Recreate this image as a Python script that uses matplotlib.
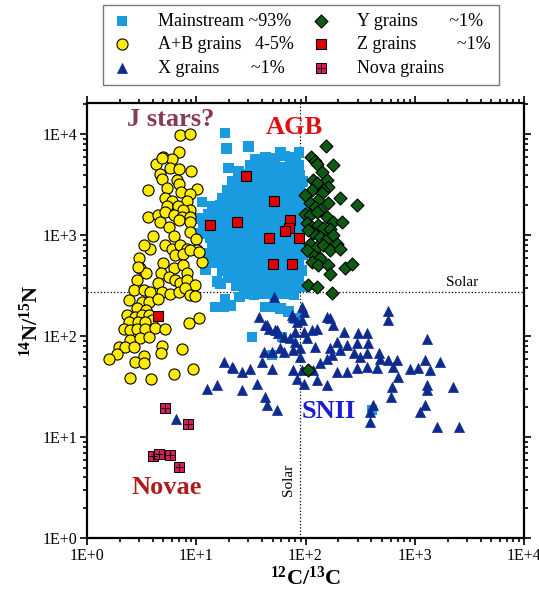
import numpy as np
import matplotlib
matplotlib.use("Agg")
import matplotlib.pyplot as plt
from matplotlib.ticker import LogLocator, FuncFormatter, NullFormatter
from matplotlib.legend_handler import HandlerTuple

plt.rcParams['font.family'] = ['Liberation Serif', 'DejaVu Serif']
plt.rcParams['mathtext.fontset'] = 'custom'
plt.rcParams['mathtext.rm'] = 'Liberation Serif'
plt.rcParams['mathtext.bf'] = 'Liberation Serif:bold'
plt.rcParams['mathtext.it'] = 'Liberation Serif:italic'

# ---- data (12C/13C, 14N/15N) ----
# mainstream grains, dense core row by row, then the outliers
ms_x = [34.7, 42.8, 52.8, 65.2, 80.5,
        31.2, 38.5, 47.5, 58.7, 72.4, 86,
        24.3, 29, 34.7, 41.9, 49.3, 61.6, 76, 89,
        21.5, 25.3, 31.2, 36.9, 45.4, 55, 68, 84, 95,
        19.2, 22.3, 27, 32.6, 40, 47.5, 58.7, 72.4, 89,
        17.3, 20.5, 24.3, 30, 35.5, 43.7, 55, 68, 84, 97,
        14, 16.6, 20, 24.3, 29.3, 35.5, 43.7, 52.8, 65.2, 80.5, 97,
        12.9, 15.2, 18.4, 22.3, 27, 32.6, 40, 49.3, 61.6, 76, 93,
        12.1, 14.3, 17.3, 21, 25.3, 31.2, 38.5, 47.5, 58.7, 72.4, 89,
        12.6, 15.2, 18.4, 22.8, 27.5, 33.9, 41.9, 51.6, 63.7, 78.7, 95,
        13.4, 16.2, 19.6, 24.3, 30, 36.9, 45.4, 56, 69.6, 86,
        14, 17, 20.5, 25.3, 31.2, 38.5, 47.5, 58.7, 72.4, 89,
        14.6, 18, 22.3, 27.5, 33.9, 41.9, 51.6, 63.7, 78.7, 95,
        15.9, 19.6, 24.3, 30, 36.9, 45.4, 56, 69.6, 86,
        17.3, 21.5, 26.4, 32.6, 40, 49.3, 61.6, 76, 93,
        19.6, 24.3, 30, 36.9, 45.4, 56, 69.6, 86,
        23.3, 28.7, 35.5, 43.7, 55, 68, 84, 97,
        27.5, 33.9, 41.9, 51.6, 63.7, 78.7,
        18.4, 19, 30, 87, 58.7, 19.7, 24.4, 11.3, 10.9, 11.7, 10.9, 13, 12.1,
        13.9, 15.5, 16.6, 18.4, 14.9, 17.8, 20.5, 25, 42.8, 52.8, 70, 80.5,
        58.7, 32.3, 60.7, 49.3, 406]
ms_y = [5700, 6000, 5800, 6100, 5900,
        4900, 4800, 5000, 4700, 4900, 5000,
        4100, 4000, 4150, 3950, 4100, 4000, 4100, 3950,
        3400, 3300, 3450, 3350, 3400, 3300, 3450, 3350, 3400,
        2800, 2850, 2750, 2850, 2800, 2750, 2850, 2800, 2750,
        2350, 2300, 2400, 2350, 2300, 2400, 2350, 2300, 2400, 2350,
        1950, 2000, 1900, 1950, 2000, 1900, 1950, 2000, 1900, 1950, 2000,
        1620, 1650, 1600, 1630, 1650, 1600, 1620, 1650, 1600, 1630, 1620,
        1350, 1380, 1330, 1360, 1350, 1380, 1330, 1360, 1350, 1380, 1330,
        1130, 1100, 1150, 1120, 1140, 1100, 1130, 1150, 1110, 1130, 1140,
        940, 920, 960, 930, 950, 920, 940, 960, 930, 950,
        780, 800, 770, 790, 780, 800, 770, 790, 780, 800,
        650, 640, 660, 650, 640, 660, 650, 640, 660, 650,
        545, 535, 555, 540, 550, 535, 545, 555, 540,
        450, 460, 445, 455, 450, 460, 445, 455, 450,
        380, 370, 385, 375, 380, 370, 385, 375,
        315, 310, 320, 312, 315, 310, 318, 312,
        262, 258, 265, 260, 262, 258,
        10300, 7300, 7600, 6600, 6700, 4640, 4300, 2150, 1470, 1310, 1040, 660, 453,
        530, 350, 335, 232, 195, 195, 203, 246, 195, 195, 175, 150,
        189, 98.6, 98.6, 65, 18.5]

# A+B grains
ab_x = [7.1, 8.8, 7.0, 5.0, 4.25, 6.0, 4.9, 5.8, 7.0, 8.9, 4.7, 4.9, 6.65, 3.65,
        5.4, 6.95, 7.25, 10.2, 8.8, 5.2, 6.0, 8.2, 5.4, 6.8, 8.8, 7.6, 3.6, 4.5,
        5.2, 6.2, 7.4, 8.7, 4.7, 5.6, 6.9, 8.8, 8.8, 4.06, 3.79, 3.3, 5.2, 6.2,
        6.0, 7.1, 8.2, 10.0, 10.2, 6.4, 7.6, 3.0, 3.07, 5.0, 11.3, 3.5, 4.75, 6.2,
        7.6, 8.2, 5.6, 8.8, 10.5, 2.96, 2.86, 4.5, 6.4, 7.1, 8.2, 9.8, 2.67, 3.3,
        3.8, 4.85, 5.8, 6.9, 7.9, 8.8, 9.8, 2.4, 3.2, 3.66, 4.5, 2.86, 3.5, 2.3,
        2.77, 3.2, 3.66, 3.9, 2.4, 2.96, 3.4, 8.5, 10.5, 2.16, 2.49, 2.86, 3.42,
        4.22, 5.2, 2.49, 3.07, 3.66, 1.95, 2.24, 2.67, 4.85, 7.4, 1.88, 3.3, 4.8,
        1.58, 2.77, 3.3, 9.3, 2.49, 3.87, 6.2]
ab_y = [9900, 10000, 6700, 6000, 5100, 5700, 5800, 4600, 4500, 4300, 4100, 3600,
        3540, 2810, 2980, 3220, 2700, 2880, 2560, 2330, 2210, 2200, 1970, 1970,
        1780, 1780, 1530, 1590, 1720, 1590, 1530, 1510, 1370, 1220, 1420, 1370,
        1090, 990, 740, 803, 803, 975, 740, 803, 740, 930, 715, 639, 650, 590,
        470, 530, 550, 420, 420, 480, 508, 420, 390, 715, 680, 490, 360, 334,
        360, 334, 360, 322, 287, 287, 275, 275, 265, 275, 300, 256, 248, 228,
        220, 220, 232, 190, 182, 162, 156, 162, 162, 145, 139, 139, 139, 136,
        152, 117, 115, 119, 119, 122, 118, 91.6, 95, 98, 79, 77.5, 77.5, 80,
        74, 66, 63, 67.5, 59, 56, 54, 47, 38.5, 37.8, 42]

# X grains
x_x = [51, 574, 574, 37.2, 92.7, 95.9, 75.1, 83.4, 157, 168, 180, 42.8, 45.9,
       52.8, 56.6, 80.5, 95.9, 114.5, 127, 223, 305, 365, 1290, 72.4, 80.5, 103,
       194, 239, 295, 377, 41.3, 49.3, 58.7, 62.9, 77.6, 89.4, 123, 89.4, 168,
       208, 174.5, 157, 275, 316, 365, 466, 482, 574, 686, 17.8, 21.9, 26.2,
       31.2, 39.9, 49.3, 77.6, 92.7, 118, 136, 194, 239, 295, 365, 450, 638,
       908, 1080, 1245, 1385, 1710, 12.5, 15.5, 26.2, 35.9, 42.8, 44.3, 54.7,
       83.4, 95.9, 127, 157, 709, 617, 604, 1290, 1290, 2230, 419, 391, 391,
       1245, 1120, 1590, 2565, 6.56, 44.3, 54.7, 62.9, 92.7, 77.6, 21.2]
x_y = [246, 179, 145, 154, 196, 175, 162, 139, 156, 150, 129, 129, 119, 115,
       108, 111, 111, 115, 119, 111, 108, 108, 93, 95, 88, 95, 88, 82, 85, 85,
       70, 70, 75.6, 70, 72.8, 75.6, 78.5, 62.5, 75.6, 72.8, 65, 60, 67.5, 62.5,
       67.5, 67.5, 60, 58, 58, 55.7, 48, 44.4, 46.9, 55.7, 46.9, 46.1, 46.1,
       46.1, 53.7, 44.4, 44.4, 48, 49.7, 48, 49.7, 46.9, 48, 58, 46.1, 55.7,
       30.3, 32.7, 29.2, 34, 25.1, 20.8, 18.5, 38.1, 34, 36.7, 32.7, 39.5, 31.5,
       25.1, 32.7, 29.2, 31.5, 20.8, 17.8, 14.2, 20.8, 17.8, 12.6, 12.5, 15.2,
       129, 115, 98.6, 145, 156, 49.7]

# Y grains
y_x = [154, 113, 123, 177, 128, 143, 118, 127, 157, 162, 114, 146, 141, 205,
       295, 162, 131, 110, 123, 136, 99, 110, 127, 157, 180, 215, 103, 114, 131,
       146, 168, 118, 136, 157, 180, 110, 127, 146, 194, 168, 208, 118, 136, 114,
       131, 162, 231, 266, 166, 106, 127, 174, 106, 99, 106, 104]
y_y = [7700, 5940, 5500, 4970, 5100, 4200, 3540, 3330, 3540, 3030, 2810, 2810,
       2600, 2320, 1980, 2100, 2240, 2070, 1920, 1780, 1620, 1590, 1710, 1530,
       1370, 1370, 1320, 1220, 1270, 1180, 1150, 1050, 965, 930, 1000, 830, 770,
       803, 830, 715, 740, 639, 590, 545, 508, 508, 470, 515, 410, 322, 310, 270,
       46, 2500, 1130, 715]

# Z grains
z_x = [28.5, 51.7, 13.4, 23.4, 72.4, 70.5, 64.8, 46.2, 86.3, 50.7, 75.1, 4.47]
z_y = [3850, 2190, 1265, 1345, 1410, 1180, 1110, 946, 940, 515, 515, 157]

# nova grains
nova_x = [5.17, 8.45, 4.02, 4.58, 5.70, 6.95]
nova_y = [19.4, 13.5, 6.5, 6.8, 6.7, 5.06]

solar_c = 89
solar_n = 272

labels = ["Mainstream ~93%", "A+B grains   4-5%", "X grains       ~1%",
          "Y grains       ~1%", "Z grains         ~1%", "Nova grains"]

# ---- figure ----
fig = plt.figure(figsize=(5.39, 5.93), dpi=100)
ax = fig.add_axes([0.1614, 0.0927, 0.8108, 0.7336])

h_ms = ax.scatter(ms_x, ms_y, marker='s', s=58, c='#1a9be0', edgecolors='none', zorder=2)
h_ab = ax.scatter(ab_x, ab_y, marker='o', s=64, c='#ffec00', edgecolors='black',
                  linewidths=0.8, zorder=3)
h_x = ax.scatter(x_x, x_y, marker='^', s=52, c='#0d2a8e', edgecolors='#0d2a8e',
                 linewidths=0.5, zorder=4)
h_y = ax.scatter(y_x, y_y, marker='D', s=44, c='#0b5c12', edgecolors='black',
                 linewidths=0.8, zorder=5)
h_z = ax.scatter(z_x, z_y, marker='s', s=52, c='#e00000', edgecolors='black',
                 linewidths=0.8, zorder=6)
h_n = ax.scatter(nova_x, nova_y, marker='s', s=42, c='#d81b5a', edgecolors='black',
                 linewidths=0.7, zorder=7)
h_n2 = ax.scatter(nova_x, nova_y, marker='+', s=38, c='black', linewidths=0.7, zorder=8)

ax.axvline(solar_c, color='black', ls=':', lw=0.9, zorder=1)
ax.axhline(solar_n, color='black', ls=':', lw=0.9, zorder=1)

ax.set_xscale('log')
ax.set_yscale('log')
ax.set_xlim(1, 1e4)
ax.set_ylim(1, 2.05e4)

fmt = FuncFormatter(lambda v, p: "1E+%d" % int(round(np.log10(v))))
for axis in (ax.xaxis, ax.yaxis):
    axis.set_major_locator(LogLocator(base=10, numticks=10))
    axis.set_minor_locator(LogLocator(base=10, subs=np.arange(2, 10), numticks=20))
    axis.set_major_formatter(fmt)
    axis.set_minor_formatter(NullFormatter())
ax.tick_params(which='both', direction='out', top=True, right=True, width=1.2,
               labelsize=11.5, pad=2)
ax.tick_params(which='major', length=5)
ax.tick_params(which='minor', length=3)
for sp in ax.spines.values():
    sp.set_linewidth(1.6)

ax.set_xlabel(r'$\mathbf{^{12}C/^{13}C}$', fontsize=16, labelpad=2)
ax.set_ylabel(r'$\mathbf{^{14}N/^{15}N}$', fontsize=16, labelpad=0)

ax.text(0.191, 0.963, 'J stars?', transform=ax.transAxes, ha='center', va='center',
        fontsize=19, fontweight='bold', color='#8a3a50')
ax.text(0.475, 0.944, 'AGB', transform=ax.transAxes, ha='center', va='center',
        fontsize=19, fontweight='bold', color='#e01010')
ax.text(0.553, 0.290, 'SNII', transform=ax.transAxes, ha='center', va='center',
        fontsize=19, fontweight='bold', color='#1c1cd0')
ax.text(0.183, 0.116, 'Novae', transform=ax.transAxes, ha='center', va='center',
        fontsize=19, fontweight='bold', color='#b01c1c')
ax.text(0.859, 0.587, 'Solar', transform=ax.transAxes, ha='center', va='center',
        fontsize=11)
ax.text(0.46, 0.133, 'Solar', transform=ax.transAxes, ha='center', va='center',
        fontsize=11, rotation=90)

leg = fig.legend([h_ms, h_ab, h_x, h_y, h_z, (h_n, h_n2)], labels, ncol=2,
                 loc='upper left', bbox_to_anchor=(0.191, 0.992),
                 handler_map={tuple: HandlerTuple(ndivide=1)},
                 fontsize=13, frameon=True, fancybox=False, edgecolor='#555555',
                 handlelength=1.2, handletextpad=1.4, columnspacing=0.9,
                 labelspacing=0.35, borderpad=0.45, borderaxespad=0)
leg.get_frame().set_linewidth(1.0)

fig.savefig('out.png', dpi=100)
